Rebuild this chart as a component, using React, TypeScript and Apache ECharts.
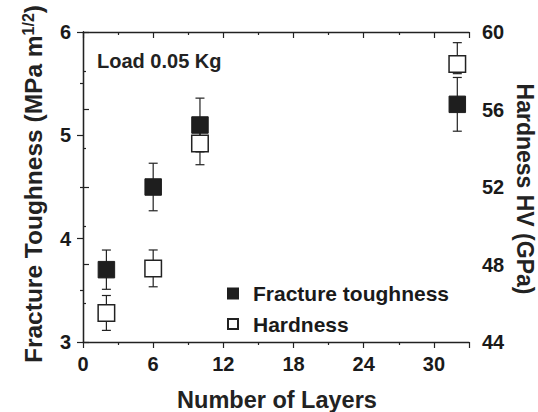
import React, { useEffect, useRef } from "react";
import * as echarts from "echarts";

const layers = [2, 6, 10, 32];
const toughness = [3.7, 4.5, 5.1, 5.3];
const toughnessErrUp = [0.19, 0.23, 0.26, 0.26];
const toughnessErrDown = [0.19, 0.23, 0.26, 0.26];
const hardness = [45.5, 47.8, 54.25, 58.35];
const hardnessErrUp = [0.9, 0.95, 1.1, 1.1];
const hardnessErrDown = [0.9, 0.95, 1.1, 0.5];
const leftTicks = [3, 4, 5, 6];
const rightTicks = [44, 48, 52, 56, 60];
const xTicks = [0, 6, 12, 18, 24, 30];

const FONT = "Liberation Sans, Arial, sans-serif";

function errorSeries(xs: number[], ys: number[], up: number[], down: number[], yAxisIndex: number) {
  return {
    type: "custom",
    xAxisIndex: 0,
    yAxisIndex,
    z: 1,
    silent: true,
    data: xs.map((x, i) => [x, ys[i] + up[i], ys[i] - down[i]]),
    renderItem: (params: any, api: any) => {
      const top = api.coord([api.value(0), api.value(1)]);
      const bot = api.coord([api.value(0), api.value(2)]);
      const hw = 4.5;
      const st = { stroke: "#222", lineWidth: 1.2 };
      return {
        type: "group",
        children: [
          { type: "line", shape: { x1: top[0], y1: top[1], x2: bot[0], y2: bot[1] }, style: st },
          { type: "line", shape: { x1: top[0] - hw, y1: top[1], x2: top[0] + hw, y2: top[1] }, style: st },
          { type: "line", shape: { x1: bot[0] - hw, y1: bot[1], x2: bot[0] + hw, y2: bot[1] }, style: st },
        ],
      };
    },
  };
}

export default function App() {
  const ref = useRef<HTMLDivElement>(null);
  useEffect(() => {
    const chart = echarts.init(ref.current!, null, { renderer: "svg" });
    const axisLine = { show: true, lineStyle: { color: "#222", width: 1.3 } };
    const labelStyle = { color: "#1a1a1a", fontFamily: FONT, fontWeight: "bold" as const, fontSize: 20 };
    chart.setOption({
      animation: false,
      backgroundColor: "#fff",
      grid: { left: 83, right: 69, top: 32, bottom: 70 },
      legend: {
        orient: "vertical",
        left: 222,
        top: 278,
        itemWidth: 10,
        itemHeight: 10,
        itemGap: 9.5,
        data: [
          { name: "Fracture toughness", icon: "rect" },
          { name: "Hardness", icon: "rect" },
        ],
        textStyle: { ...labelStyle, fontSize: 21, padding: [0, 0, 0, 10] },
      },
      xAxis: [
        {
          type: "value",
          min: 0,
          max: 33,
          interval: 6,
          axisLine,
          axisTick: { show: true, length: 6, lineStyle: { color: "#222", width: 1.2 } },
          minorTick: { show: true, splitNumber: 2, length: 3, lineStyle: { color: "#222", width: 1.2 } },
          axisLabel: { ...labelStyle, margin: 12, customValues: xTicks },
          splitLine: { show: false },
        },
        {
          type: "value",
          position: "top",
          min: 0,
          max: 33,
          interval: 6,
          axisLine,
          axisTick: { show: true, inside: true, length: 6, lineStyle: { color: "#222", width: 1.2 } },
          minorTick: { show: true, splitNumber: 2, length: 3, lineStyle: { color: "#222", width: 1.2 } },
          axisLabel: { show: false },
          splitLine: { show: false },
        },
      ],
      yAxis: [
        {
          type: "value",
          min: 3,
          max: 6,
          interval: 1,
          axisLine,
          axisTick: { show: true, length: 6, lineStyle: { color: "#222", width: 1.2 } },
          minorTick: { show: true, splitNumber: 2, length: 3, lineStyle: { color: "#222", width: 1.2 } },
          axisLabel: { ...labelStyle, margin: 12, customValues: leftTicks },
          splitLine: { show: false },
        },
        {
          type: "value",
          position: "right",
          min: 44,
          max: 60,
          interval: 4,
          axisLine,
          axisTick: { show: true, length: 6, lineStyle: { color: "#222", width: 1.2 } },
          minorTick: { show: true, splitNumber: 2, length: 3, lineStyle: { color: "#222", width: 1.2 } },
          axisLabel: { ...labelStyle, margin: 13, customValues: rightTicks },
          splitLine: { show: false },
        },
      ],
      graphic: [
        {
          type: "text",
          x: 33,
          y: 184,
          rotation: Math.PI / 2,
          style: {
            text: "{a|Fracture Toughness (MPa m}{s|1/2}{a|)}",
            align: "center",
            verticalAlign: "middle",
            fill: "#222",
            rich: {
              a: { fontFamily: FONT, fontWeight: "bold", fontSize: 24.5, fill: "#222" },
              s: { fontFamily: FONT, fontWeight: "bold", fontSize: 16, fill: "#222", verticalAlign: "top", padding: [0, 0, 10, 0] },
            },
          },
        },
        {
          type: "text",
          x: 525,
          y: 189,
          rotation: -Math.PI / 2,
          style: {
            text: "Hardness HV (GPa)",
            align: "center",
            verticalAlign: "middle",
            fill: "#222",
            font: `bold 23px ${FONT}`,
          },
        },
        {
          type: "text",
          x: 277,
          y: 400,
          style: {
            text: "Number of Layers",
            align: "center",
            verticalAlign: "middle",
            fill: "#222",
            font: `bold 23.5px ${FONT}`,
          },
        },
        {
          type: "text",
          x: 97,
          y: 61,
          style: {
            text: "Load 0.05 Kg",
            align: "left",
            verticalAlign: "middle",
            fill: "#222",
            font: `bold 20px ${FONT}`,
          },
        },
      ],
      series: [
        errorSeries(layers, toughness, toughnessErrUp, toughnessErrDown, 0),
        errorSeries(layers, hardness, hardnessErrUp, hardnessErrDown, 1),
        {
          name: "Fracture toughness",
          type: "scatter",
          xAxisIndex: 0,
          yAxisIndex: 0,
          z: 3,
          symbol: "rect",
          symbolSize: 16.5,
          data: layers.map((x, i) => [x, toughness[i]]),
          itemStyle: { color: "#1e1e1e", borderColor: "#1e1e1e", borderWidth: 1, opacity: 1 },
        },
        {
          name: "Hardness",
          type: "scatter",
          xAxisIndex: 0,
          yAxisIndex: 1,
          z: 3,
          symbol: "rect",
          symbolSize: 16.5,
          data: layers.map((x, i) => [x, hardness[i]]),
          itemStyle: { color: "#fff", borderColor: "#222", borderWidth: 1.5, opacity: 1 },
        },
      ],
    });
    return () => chart.dispose();
  }, []);
  return <div ref={ref} style={{ width: 538, height: 412, position: "absolute", left: 0, top: 0 }} />;
}
